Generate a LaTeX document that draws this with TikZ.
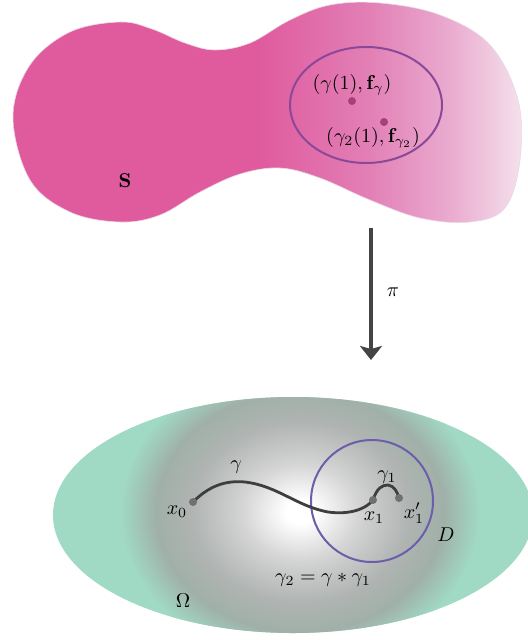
\documentclass[tikz,border=0pt]{standalone}
\usetikzlibrary{arrows.meta}
\definecolor{pinkA}{RGB}{224,90,158}
\definecolor{pinkB}{RGB}{226,128,182}
\definecolor{pinkC}{RGB}{234,172,208}
\definecolor{pinkD}{RGB}{244,226,236}
\definecolor{ellTop}{RGB}{138,72,152}
\definecolor{dotTop}{RGB}{168,62,122}
\definecolor{discCol}{RGB}{108,94,170}
\definecolor{mint}{RGB}{160,218,196}
\definecolor{grayA}{RGB}{212,213,212}
\definecolor{grayB}{RGB}{176,180,178}
\definecolor{grayC}{RGB}{160,176,168}
\definecolor{curveCol}{RGB}{62,62,62}
\definecolor{dotGray}{RGB}{112,112,112}
\definecolor{arrowCol}{RGB}{68,68,68}
\pgfdeclarehorizontalshading{blobsh}{100bp}{color(0bp)=(pinkA); color(49bp)=(pinkA); color(60bp)=(pinkB); color(68bp)=(pinkC); color(75bp)=(pinkD); color(100bp)=(pinkD)}
\pgfdeclareradialshading{glowsh}{\pgfpoint{0bp}{0bp}}{color(0bp)=(white); color(2bp)=(white); color(8bp)=(grayA); color(15bp)=(grayB); color(20bp)=(grayC); color(25bp)=(mint); color(50bp)=(mint)}
\tikzset{
  lbl/.style={inner sep=1pt},
  topdot/.style={fill=dotTop, draw=none},
  gdot/.style={fill=dotGray, draw=none},
  pathline/.style={draw=curveCol, line width=1.4pt, line cap=round},
}
\begin{document}
\begin{tikzpicture}[x=0.5pt,y=-0.5pt]
\useasboundingbox (0,0) rectangle (528,640);
% ---- top blob S ----
\shade[shading=blobsh, draw=pinkC!70!gray!40, line width=0.3pt]
  plot[smooth cycle, tension=0.6] coordinates {
  (13,117) (30,65) (70,32) (120,22) (152,29) (185,43) (215,50) (250,43)
  (290,20) (330,5) (380,3) (440,15) (490,45) (518,100) (520,160) (505,208)
  (470,222) (420,218) (370,200) (320,178) (280,168) (240,174) (200,192)
  (160,215) (120,222) (70,212) (30,180)};
\draw[ellTop, line width=1pt] (366,105) ellipse [x radius=76, y radius=58];
\fill[topdot] (352,101) circle (4);
\fill[topdot] (384,122) circle (4);
\node[lbl] (g1) at (352,85) {$(\gamma(1),\mathbf{f}_\gamma)$};
\node[lbl] (g2) at (373,138) {$(\gamma_2(1),\mathbf{f}_{\gamma_2})$};
\node[lbl] (S) at (125,181) {$\mathbf{S}$};
% ---- projection arrow ----
\coordinate (pitop) at (371,228);
\coordinate (pibot) at (371,360);
\draw[arrowCol, line width=2pt, -{Stealth[length=7pt, width=11pt, inset=1.5pt]}] (pitop) -- (pibot);
\node[lbl] (pi) at (393,292) {$\pi$};
% ---- bottom region Omega ----
\fill[mint] (293,515) ellipse [x radius=240, y radius=118];
\begin{scope}
  \clip (293,515) ellipse [x radius=240, y radius=118];
  \shade[shading=glowsh] (300,512) ellipse [x radius=180, y radius=150];
\end{scope}
\draw[discCol, line width=1pt] (372,501) circle (61);
% curves
\coordinate (x0) at (193,502);
\coordinate (x1) at (373,500);
\coordinate (x1p) at (399,498);
\draw[pathline] (x0) .. controls (208,487) and (224,480) .. (245,482)
  .. controls (278,486) and (296,506) .. (328,512)
  .. controls (350,515) and (366,509) .. (x1);
\draw[pathline] (x1) .. controls (377,488) and (382,485) .. (388,485)
  .. controls (394,486) and (397,491) .. (x1p);
\fill[gdot] (x0) circle (4);
\fill[gdot] (x1) circle (4);
\fill[gdot] (x1p) circle (4);
\node[lbl] (lx0) at (177,512) {$x_0$};
\node[lbl] (lg) at (236,467) {$\gamma$};
\node[lbl] (lg1) at (387,477) {$\gamma_1$};
\node[lbl] (lx1) at (374,518) {$x_1$};
\node[lbl] (lx1p) at (414,513) {$x_1'$};
\node[lbl] (lD) at (446,535) {$D$};
\node[lbl] (lg2) at (323,580) {$\gamma_2=\gamma*\gamma_1$};
\node[lbl] (lO) at (183,601) {$\Omega$};
\end{tikzpicture}
\end{document}
